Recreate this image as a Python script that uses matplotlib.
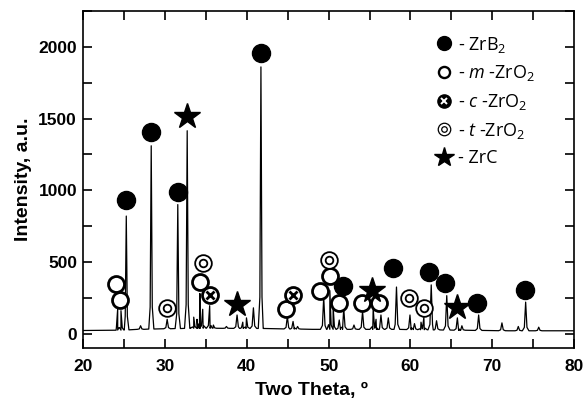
import numpy as np
import matplotlib.pyplot as plt
from matplotlib.lines import Line2D
from matplotlib.legend_handler import HandlerTuple

plt.rcParams['font.family'] = ['Liberation Sans', 'DejaVu Sans']
plt.rcParams['mathtext.fontset'] = 'custom'
plt.rcParams['mathtext.rm'] = 'Open Sans'
plt.rcParams['mathtext.it'] = 'Open Sans:italic'

# background level of the pattern
base_x = [20, 24, 28, 34, 42, 48, 58, 66, 72, 80]
base_y = [22, 24, 32, 38, 36, 30, 30, 24, 20, 20]

# diffraction peaks: position (2theta), top intensity
peak_pos = [24.2, 24.6, 25.25, 27.0, 28.3, 30.25, 31.55, 32.7, 33.5, 33.9,
            34.25, 34.6, 35.45, 35.9, 37.5, 38.8, 39.5, 39.95, 40.8, 41.72,
            44.95, 45.65, 46.2, 49.4, 50.15, 50.55, 51.3, 51.85, 53.1, 54.15,
            55.45, 55.8, 56.4, 57.3, 58.3, 59.95, 60.5, 61.3, 61.65, 62.55,
            63.2, 64.45, 65.75, 66.3, 68.35, 71.2, 73.2, 74.1, 75.7]
peak_int = [175, 160, 820, 55, 1310, 100, 900, 1415, 115, 100,
            280, 170, 195, 60, 50, 130, 80, 110, 180, 1860,
            120, 85, 50, 255, 300, 185, 95, 175, 60, 155,
            175, 100, 130, 110, 325, 130, 70, 80, 115, 340,
            90, 265, 110, 55, 130, 75, 50, 220, 45]

# phase markers (position, height)
zrb2_x = [25.2, 28.25, 31.55, 41.7, 51.7, 57.9, 62.3, 64.2, 68.2, 74.0]
zrb2_y = [935, 1405, 990, 1955, 330, 460, 430, 350, 215, 305]
mzro2_x = [24.0, 24.5, 34.25, 44.8, 49.0, 50.15, 51.3, 54.1, 56.2]
mzro2_y = [345, 237, 357, 175, 300, 400, 214, 214, 214]
czro2_x = [35.5, 45.7]
czro2_y = [270, 270]
tzro2_x = [30.25, 34.6, 50.1, 59.85, 61.7]
tzro2_y = [178, 490, 515, 247, 178]
zrc_x = [32.65, 38.75, 55.25, 65.65]
zrc_y = [1520, 207, 306, 185]

labels = ['- ZrB$_2$', '- $m$ -ZrO$_2$', '- $c$ -ZrO$_2$',
          '- $t$ -ZrO$_2$', '- ZrC']


def build_trace():
    pts = [(x, np.interp(x, base_x, base_y)) for x in base_x]
    for p, h in zip(peak_pos, peak_int):
        w = 0.13 if h > 500 else 0.16
        b = np.interp(p, base_x, base_y)
        pts += [(p - 2.5 * w, b), (p - w, b + 0.12 * (h - b)), (p, h),
                (p + w, b + 0.12 * (h - b)), (p + 2.5 * w, b)]
    pts.sort()
    xs = np.array([q[0] for q in pts])
    ys = np.array([q[1] for q in pts])
    return xs, ys


fig = plt.figure(figsize=(5.85, 4.07), dpi=100)
ax = fig.add_axes([0.1425, 0.145, 0.8385, 0.828])

tx, ty = build_trace()
ax.plot(tx, ty, color='black', lw=0.9, zorder=2)

kw = dict(ls='none', zorder=3)
ax.plot(zrb2_x, zrb2_y, marker='o', ms=13, color='black', **kw)
ax.plot(mzro2_x, mzro2_y, marker='o', ms=11.5, mfc='white', mec='black', mew=2, **kw)
ax.plot(czro2_x, czro2_y, marker='o', ms=11.5, mfc='white', mec='black', mew=2, **kw)
ax.plot(czro2_x, czro2_y, marker='x', ms=6, mec='black', mew=2, zorder=4, ls='none')
ax.plot(tzro2_x, tzro2_y, marker='o', ms=12, mfc='white', mec='black', mew=1.3, **kw)
ax.plot(tzro2_x, tzro2_y, marker='o', ms=5.5, mfc='white', mec='black', mew=1.3, zorder=4, ls='none')
ax.plot(zrc_x, zrc_y, marker='*', ms=19, color='black', **kw)

ax.set_xlim(20, 80)
ax.set_ylim(-100, 2250)
ax.set_xticks(range(20, 81, 10))
ax.set_xticks(range(25, 80, 10), minor=True)
ax.set_yticks(range(0, 2001, 500))
ax.set_yticks(range(250, 2251, 500), minor=True)
ax.tick_params(which='both', direction='in', top=True, right=True, width=1.2, length=6.5)
ax.tick_params(axis='both', which='major', labelsize=12.5)
ax.tick_params(axis='x', which='major', pad=8)
ax.tick_params(axis='y', which='major', pad=4.5)
for lab in ax.get_xticklabels() + ax.get_yticklabels():
    lab.set_fontweight('bold')
for s in ax.spines.values():
    s.set_linewidth(1.2)

ax.set_xlabel('Two Theta, º', fontsize=14, fontweight='bold')
ax.set_ylabel('Intensity, a.u.', fontsize=14, fontweight='bold')
ax.xaxis.set_label_coords(0.466, -0.102)
ax.yaxis.set_label_coords(-0.105, 0.5)

h1 = Line2D([], [], marker='o', ms=10, color='black', ls='none')
h2 = Line2D([], [], marker='o', ms=8, mfc='white', mec='black', mew=1.7, ls='none')
h3a = Line2D([], [], marker='o', ms=9.5, mfc='black', mec='black', ls='none')
h3b = Line2D([], [], marker='x', ms=4.5, mec='white', mew=1.4, ls='none')
h4a = Line2D([], [], marker='o', ms=9, mfc='white', mec='black', mew=0.9, ls='none')
h4b = Line2D([], [], marker='o', ms=4, mfc='white', mec='black', mew=0.9, ls='none')
h5 = Line2D([], [], marker='*', ms=15, color='black', ls='none')
leg = ax.legend([h1, h2, (h3a, h3b), (h4a, h4b), h5], labels,
                handler_map={tuple: HandlerTuple(ndivide=1, pad=0)},
                loc='upper left', bbox_to_anchor=(0.717, 0.93), frameon=False,
                fontsize=13, handlelength=1.0, handletextpad=0.25,
                labelspacing=0.48, borderaxespad=0, borderpad=0)
for t in leg.get_texts():
    t.set_fontfamily('Open Sans')

fig.savefig('out.png', dpi=100)
